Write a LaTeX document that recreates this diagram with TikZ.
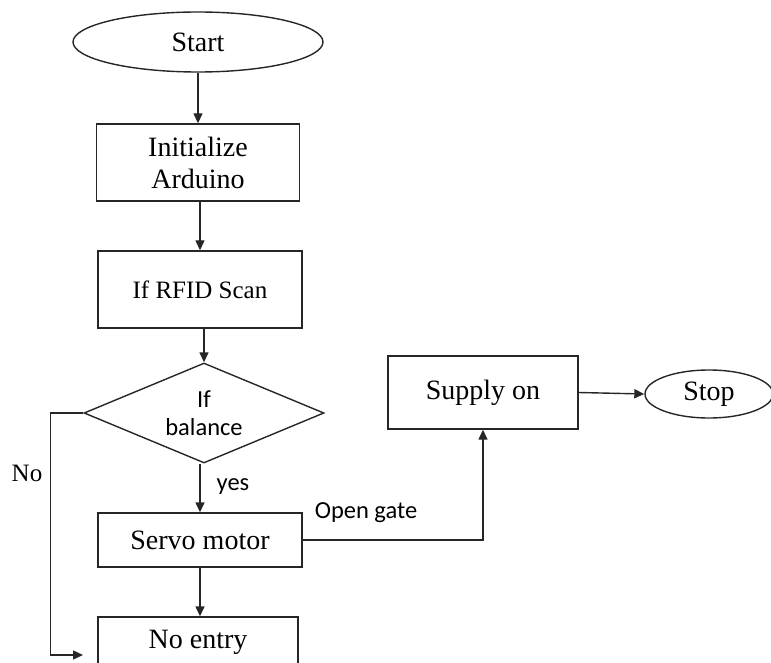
\documentclass[tikz,border=0pt]{standalone}
\usepackage{fontspec}
\setmainfont{Liberation Serif}
\newfontfamily\calib{Carlito}
\usetikzlibrary{shapes.geometric,arrows.meta}

\begin{document}
\begin{tikzpicture}[x=1pt, y=-1pt, line width=1.4pt,
  every node/.style={font=\fontsize{28}{32}\selectfont},
  box/.style={draw=black!85, rectangle, inner sep=0pt, align=center},
  term/.style={draw=black!85, ellipse, inner sep=0pt},
  decide/.style={draw=black!85, diamond, inner sep=0pt, aspect=2.4, align=center,
    font=\calib\fontsize{24.5}{28}\selectfont},
  tag/.style={font=\calib\fontsize{24.5}{28}\selectfont},
  flow/.style={draw=black!85, -{Triangle[length=10pt,width=9pt]}}]
% Canvas in pixels: origin top left, y grows downwards
\useasboundingbox (0,0) rectangle (771,663);

% Main column
\node[term, minimum width=250pt, minimum height=60pt] (start) at (198,42) {Start};
\node[box, minimum width=203pt, minimum height=77pt] (init) at (198,162.5) {Initialize\\Arduino};
\node[box, minimum width=204pt, minimum height=77pt,
      font=\fontsize{25}{30}\selectfont] (rfid) at (200,289.5) {If RFID Scan};
\node[decide, minimum width=240pt, minimum height=100pt] (bal) at (204,413) {If\\balance};
\node[box, minimum width=204pt, minimum height=54pt] (servo) at (200,540) {Servo motor};
\node[box, minimum width=200pt, minimum height=50pt] (noentry) at (198,642) {No entry};

% Right branch
\node[box, minimum width=190pt, minimum height=73pt] (supply) at (483,392.5) {Supply on};
\node[term, minimum width=128pt, minimum height=48pt] (stop) at (709,394) {Stop};

% Labels
\node[tag] (yes) at (233,487) {yes};
\node[tag] (gate) at (366,513) {Open gate};
\node[font=\fontsize{25}{30}\selectfont] (no) at (27,473) {No};
\coordinate (nofoot) at (83,655);

% Connectors
\draw[flow] (start) -- (init);
\draw[flow] (rfid.north |- init.south) -- (rfid.north);
\draw[flow] (bal.north |- rfid.south) -- (bal.north);
\draw[flow] (servo.north |- bal.south) -- (servo.north);
\draw[flow] (servo.south) -- (servo.south |- noentry.north);
\draw[flow] (bal.west) -- ++(-33,0) |- (nofoot);
\draw[flow] (servo.east) -| (supply.south);
\draw[flow] (supply.east) -- (stop.west);
\end{tikzpicture}
\end{document}
